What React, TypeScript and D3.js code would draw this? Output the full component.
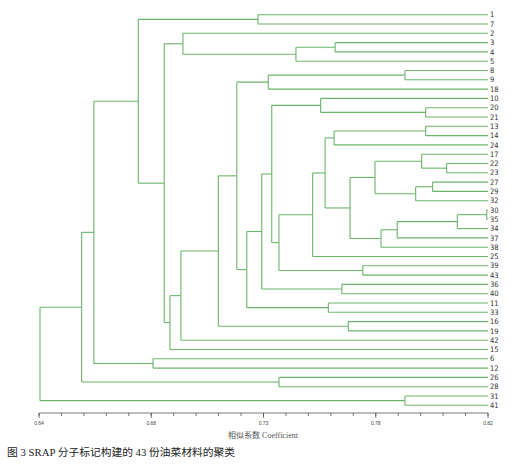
import { useEffect, useRef } from "react";
import * as d3 from "d3";

// leaf order top to bottom as printed on the dendrogram
const leafLabels = [
  "1", "7", "2", "3", "4", "5", "8", "9", "18", "10", "20", "21", "13", "14",
  "24", "17", "22", "23", "27", "29", "32", "30", "35", "34", "37", "38", "25",
  "39", "43", "36", "40", "11", "33", "16", "19", "42", "15", "6", "12", "26",
  "28", "31", "41",
];

// merge steps: [left, right, similarity]; "nK" refers to the K-th merge
const merges: [string, string, number][] = [
  ["30", "35", 0.8195],
  ["22", "23", 0.8034],
  ["n1", "34", 0.8077],
  ["27", "29", 0.7978],
  ["20", "21", 0.795],
  ["13", "14", 0.795],
  ["17", "n2", 0.7934],
  ["n4", "32", 0.791],
  ["8", "9", 0.7867],
  ["31", "41", 0.7867],
  ["n3", "37", 0.7836],
  ["n11", "38", 0.7771],
  ["n7", "n8", 0.7747],
  ["39", "43", 0.7698],
  ["n13", "n12", 0.7647],
  ["16", "19", 0.764],
  ["36", "40", 0.7614],
  ["3", "4", 0.7587],
  ["n6", "24", 0.7583],
  ["11", "33", 0.756],
  ["n19", "n15", 0.7547],
  ["10", "n5", 0.7529],
  ["n21", "25", 0.7497],
  ["n18", "5", 0.743],
  ["n23", "n14", 0.7362],
  ["26", "28", 0.7362],
  ["n22", "n25", 0.7333],
  ["n9", "18", 0.7319],
  ["n27", "n17", 0.7293],
  ["1", "7", 0.7278],
  ["n29", "n20", 0.7233],
  ["n28", "n31", 0.7193],
  ["n32", "n16", 0.7119],
  ["2", "n24", 0.6977],
  ["n33", "42", 0.6969],
  ["n35", "15", 0.6925],
  ["n34", "n36", 0.6902],
  ["6", "12", 0.6857],
  ["n30", "n37", 0.6798],
  ["n39", "n38", 0.662],
  ["n40", "n26", 0.6571],
  ["n41", "n10", 0.6404],
];

const majorTicks = [0.64, 0.685, 0.73, 0.775, 0.82];
const majorTickLabels = ["0.64", "0.68", "0.73", "0.78", "0.82"];
const minorTicks = d3.range(0, 21).map((i) => 0.64 + i * 0.009);

const axisTitle = "相似系数 Coefficient";
const caption = "图 3 SRAP 分子标记构建的 43 份油菜材料的聚类";

interface TreeNode {
  id: string;
  h: number;
  left?: TreeNode;
  right?: TreeNode;
  y?: number;
}

export default function App() {
  const svgRef = useRef<SVGSVGElement>(null);

  useEffect(() => {
    if (!svgRef.current) return;
    const svg = d3.select(svgRef.current);
    svg.selectAll("*").remove();

    const width = 516;
    const height = 467;
    const lineColor = "#6cb46c";

    svg.append("rect").attr("width", width).attr("height", height).attr("fill", "#fff");

    const x = d3.scaleLinear().domain([0.64, 0.82]).range([39, 488]);
    const y = d3.scalePoint<string>().domain(leafLabels).range([14.7, 405.3]);

    // build the tree
    const nodes: Record<string, TreeNode> = {};
    leafLabels.forEach((l) => (nodes[l] = { id: l, h: 0.82, y: y(l) }));
    merges.forEach(([a, b, h], i) => {
      const id = "n" + (i + 1);
      const left = nodes[a];
      const right = nodes[b];
      nodes[id] = { id, h, left, right, y: ((left.y ?? 0) + (right.y ?? 0)) / 2 };
    });

    const g = svg.append("g").attr("fill", "none").attr("stroke", lineColor).attr("stroke-width", 1.1);

    // branches
    Object.values(nodes).forEach((n) => {
      if (!n.left || !n.right) return;
      const xn = x(n.h);
      g.append("line")
        .attr("x1", xn).attr("x2", xn)
        .attr("y1", n.left.y!).attr("y2", n.right.y!);
      [n.left, n.right].forEach((c) => {
        g.append("line")
          .attr("x1", xn).attr("x2", x(c.h))
          .attr("y1", c.y!).attr("y2", c.y!);
      });
    });

    // leaf labels
    svg
      .append("g")
      .selectAll("text")
      .data(leafLabels)
      .enter()
      .append("text")
      .attr("x", x(0.82) + 2)
      .attr("y", (d) => y(d)! + 2.6)
      .attr("font-family", "'Liberation Sans Narrow', 'DejaVu Sans Condensed', sans-serif")
      .attr("font-size", 7.5)
      .attr("fill", "#333")
      .text((d) => d);

    // axis
    const axisY = 413;
    const axisG = svg.append("g").attr("transform", `translate(0, ${axisY})`);
    axisG
      .append("line")
      .attr("x1", x(0.64)).attr("x2", x(0.82))
      .attr("y1", 0).attr("y2", 0)
      .attr("stroke", "#555").attr("stroke-width", 0.8);
    axisG
      .selectAll(".minor")
      .data(minorTicks)
      .enter()
      .append("line")
      .attr("x1", (d) => x(d)).attr("x2", (d) => x(d))
      .attr("y1", 0).attr("y2", 3)
      .attr("stroke", "#555").attr("stroke-width", 0.8);
    axisG
      .selectAll(".major")
      .data(majorTicks)
      .enter()
      .append("line")
      .attr("x1", (d) => x(d)).attr("x2", (d) => x(d))
      .attr("y1", 0).attr("y2", 5)
      .attr("stroke", "#555").attr("stroke-width", 0.8);
    axisG
      .selectAll(".tickLabel")
      .data(majorTicks)
      .enter()
      .append("text")
      .attr("x", (d) => x(d))
      .attr("y", 12)
      .attr("text-anchor", "middle")
      .attr("font-family", "'Liberation Sans Narrow', sans-serif")
      .attr("font-size", 5)
      .attr("fill", "#444")
      .text((_, i) => majorTickLabels[i]);

    svg
      .append("text")
      .attr("x", 263)
      .attr("y", 438)
      .attr("text-anchor", "middle")
      .attr("font-family", "'Liberation Serif', 'Noto Sans CJK SC', serif")
      .attr("font-size", 8)
      .attr("fill", "#555")
      .text(axisTitle);

    svg
      .append("text")
      .attr("x", 7)
      .attr("y", 456)
      .attr("font-family", "'Liberation Serif', 'Noto Sans CJK SC', serif")
      .attr("font-size", 10.75)
      .attr("fill", "#222")
      .text(caption);
  }, []);

  return (
    <svg
      ref={svgRef}
      width={516}
      height={467}
      style={{ position: "absolute", left: 0, top: 0, display: "block" }}
    />
  );
}
